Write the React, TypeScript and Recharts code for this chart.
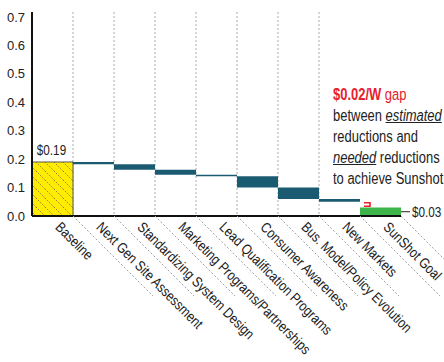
import React from "react";
import { Bar, BarChart, CartesianGrid, Cell, LabelList, XAxis, YAxis } from "recharts";

// Liberation Sans squeezed horizontally stands in for the condensed font of the original
const FONT = '"Liberation Sans", Arial, sans-serif';
const SQUEEZE = 0.84;

const categories = [
  "Baseline",
  "Next Gen Site Assessment",
  "Standardizing System Design",
  "Marketing Programs/Partnerships",
  "Lead Qualification Programs",
  "Consumer Awareness",
  "Bus. Model/Policy Evolution",
  "New Markets",
  "SunShot Goal",
];
const baseline = 0.19;
const reductions = [0.008, 0.019, 0.018, 0.005, 0.04, 0.04, 0.01];
const goal = 0.03;
const yTicks = [0, 0.1, 0.2, 0.3, 0.4, 0.5, 0.6, 0.7];

// waterfall rows: invisible base + visible step
const rows: { name: string; base: number; step: number; gap: number }[] = [];
let level = baseline;
rows.push({ name: categories[0], base: 0, step: baseline, gap: 0 });
reductions.forEach((r, i) => {
  level -= r;
  rows.push({ name: categories[i + 1], base: level, step: r, gap: 0 });
});
rows.push({ name: categories[categories.length - 1], base: 0, step: goal, gap: level - goal });

const last = rows.length - 1;

function CategoryTick(props: any) {
  const { x, y, payload, width, visibleTicksCount } = props;
  const band = width / visibleTicksCount;
  const ox = x + 2;
  const oy = y + 12;
  const bx = x + band / 2;
  return (
    <g>
      <line x1={bx} y1={y} x2={bx + 80} y2={y + 80} stroke="#a0a0a0" strokeDasharray="2 2" />
      <text
        x={0}
        y={0}
        transform={`translate(${ox}, ${oy}) rotate(45) scale(${SQUEEZE}, 1)`}
        textAnchor="start"
        fontFamily={FONT}
        fontSize={14.4}
        fill="#1a1a1a"
      >
        {payload.value}
      </text>
    </g>
  );
}

function StepLabel(props: any) {
  const { x, y, width, height, value, index } = props;
  if (index === 0) {
    return (
      <text
        x={0}
        y={0}
        transform={`translate(${x + width / 2 - 1}, ${y - 7}) scale(${SQUEEZE}, 1)`}
        textAnchor="middle"
        fontFamily={FONT}
        fontSize={14}
        fill="#222"
      >
        {`$${Number(value).toFixed(2)}`}
      </text>
    );
  }
  if (index === last) {
    const my = y + height / 2;
    return (
      <g>
        <line x1={x + width} y1={my} x2={x + width + 9} y2={my} stroke="#222" strokeWidth={1} />
        <text
          x={0}
          y={0}
          transform={`translate(${x + width + 11}, ${my + 5}) scale(${SQUEEZE}, 1)`}
          fontFamily={FONT}
          fontSize={14}
          fill="#222"
        >
          {`$${Number(value).toFixed(2)}`}
        </text>
      </g>
    );
  }
  return null;
}

function GapShape(props: any) {
  const { x, y, height } = props;
  if (!height || height <= 0) return null;
  return (
    <path
      d={`M ${x + 4} ${y + 1} H ${x + 10} V ${y + 4.5} H ${x + 4}`}
      fill="none"
      stroke="#e8202a"
      strokeWidth={1.6}
    />
  );
}

export default function App() {
  return (
    <div style={{ position: "absolute", left: 0, top: 0, width: 444, height: 362, background: "#fff", overflow: "hidden" }}>
      <BarChart
        width={444}
        height={362}
        data={rows}
        margin={{ top: 12, right: 43, bottom: 0, left: 0 }}
        barCategoryGap={0}
        barGap={0}
      >
        <defs>
          <pattern id="hatch" patternUnits="userSpaceOnUse" width={9} height={9}>
            <rect width={9} height={9} fill="#ffec00" />
            <line x1={0} y1={0} x2={9} y2={9} stroke="#555" strokeWidth={0.7} strokeDasharray="1.5 1.5" />
          </pattern>
        </defs>
        <CartesianGrid
          horizontal={false}
          stroke="#aaa"
          strokeDasharray="2 2"
          verticalCoordinatesGenerator={({ offset }: any) =>
            categories
              .slice(1, categories.length - 1)
              .map((_, i) => offset.left + ((i + 1) * offset.width) / categories.length)
          }
        />
        <YAxis
          width={32}
          domain={[0, 0.7176]}
          ticks={yTicks}
          tickFormatter={(v: number) => v.toFixed(1)}
          axisLine={{ stroke: "#111", strokeWidth: 2 }}
          tickLine={false}
          tickSize={0}
          tickMargin={7}
          tick={{ fontFamily: FONT, fontSize: 13, fill: "#222" }}
        />
        <XAxis
          dataKey="name"
          height={146}
          interval={0}
          tickLine={false}
          tickSize={0}
          tickMargin={0}
          axisLine={{ stroke: "#111", strokeWidth: 2 }}
          tick={<CategoryTick />}
        />
        <Bar dataKey="base" stackId="w" fill="transparent" isAnimationActive={false} />
        <Bar dataKey="step" stackId="w" isAnimationActive={false}>
          {rows.map((_, i) => (
            <Cell
              key={i}
              fill={i === 0 ? "url(#hatch)" : i === last ? "#3db54a" : "#1b5b72"}
              stroke={i === 0 ? "#555" : "none"}
              strokeWidth={1}
            />
          ))}
          <LabelList dataKey="step" content={<StepLabel />} />
        </Bar>
        <Bar dataKey="gap" stackId="w" isAnimationActive={false} shape={<GapShape />} />
      </BarChart>
      <div
        style={{
          position: "absolute",
          left: 333,
          top: 84,
          fontFamily: FONT,
          fontSize: 16,
          lineHeight: "21px",
          color: "#222",
          whiteSpace: "nowrap",
          transform: `scaleX(${SQUEEZE - 0.03})`,
          transformOrigin: "left top",
        }}
      >
        <div style={{ color: "#e8202a" }}>
          <b>$0.02/W</b> gap
        </div>
        <div>
          between <i style={{ textDecoration: "underline" }}>estimated</i>
        </div>
        <div>reductions and</div>
        <div>
          <i style={{ textDecoration: "underline" }}>needed</i> reductions
        </div>
        <div>to achieve Sunshot</div>
      </div>
    </div>
  );
}
